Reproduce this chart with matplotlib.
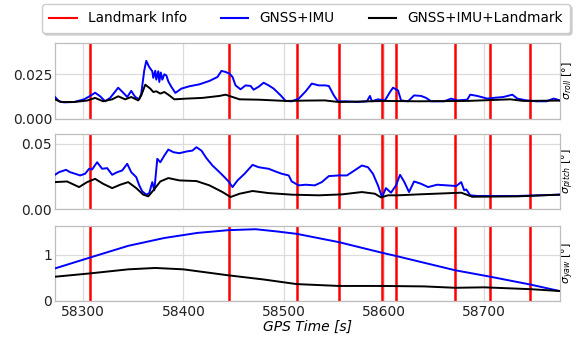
import matplotlib
matplotlib.use("Agg")
import matplotlib.pyplot as plt
from matplotlib.lines import Line2D

# ---------------- data ----------------
landmark_times = [58306.6, 58445, 58513, 58555, 58598, 58612, 58671, 58706, 58746]

roll_imu_t = [58272, 58276, 58281, 58291, 58301, 58307, 58312, 58317, 58322, 58327, 58335, 58340,
              58344, 58348, 58352, 58356, 58358, 58361, 58363, 58366, 58369, 58370, 58372, 58373,
              58375, 58376, 58377.5, 58379, 58381, 58383, 58385, 58388, 58392, 58398, 58406, 58416,
              58426, 58434, 58438, 58442, 58446, 58449, 58452, 58457, 58462, 58467, 58470, 58475,
              58480, 58485, 58490, 58497, 58502, 58508, 58515, 58522, 58528, 58535, 58541, 58545,
              58550, 58554, 58561, 58574, 58583, 58586, 58588, 58594, 58601, 58606, 58609, 58614,
              58617, 58624, 58630, 58637, 58642, 58647, 58660, 58667, 58673, 58683, 58686, 58693,
              58703, 58709, 58719, 58728, 58733, 58742, 58752, 58762, 58769, 58772, 58775]
roll_imu = [0.0123, 0.0099, 0.0093, 0.0095, 0.0110, 0.0129, 0.0147, 0.0127, 0.0099, 0.0118, 0.0175, 0.0147,
            0.0123, 0.0157, 0.0123, 0.0110, 0.0142, 0.0272, 0.0325, 0.0290, 0.0267, 0.0230, 0.0270, 0.0220,
            0.0267, 0.0207, 0.0260, 0.0220, 0.0250, 0.0244, 0.0210, 0.0180, 0.0146, 0.0170, 0.0183, 0.0194,
            0.0213, 0.0235, 0.0269, 0.0263, 0.0254, 0.0235, 0.0188, 0.0166, 0.0188, 0.0185, 0.0164, 0.0180,
            0.0203, 0.0188, 0.0170, 0.0132, 0.0101, 0.0099, 0.0114, 0.0155, 0.0198, 0.0188, 0.0188, 0.0185,
            0.0132, 0.0099, 0.0099, 0.0095, 0.0099, 0.0129, 0.0099, 0.0110, 0.0104, 0.0151, 0.0175, 0.0160,
            0.0104, 0.0099, 0.0132, 0.0129, 0.0118, 0.0099, 0.0099, 0.0114, 0.0104, 0.0108, 0.0136, 0.0129,
            0.0114, 0.0118, 0.0123, 0.0136, 0.0114, 0.0104, 0.0099, 0.0099, 0.0114, 0.0110, 0.0104]

roll_lm_t = [58272, 58278, 58291, 58304, 58312, 58320, 58329, 58335, 58342, 58348, 58355, 58358,
             58362, 58367, 58370, 58373, 58377, 58381, 58385, 58391, 58403, 58419, 58436, 58442,
             58449, 58456, 58475, 58502, 58522, 58541, 58555, 58601, 58634, 58683, 58726, 58739, 58775]
roll_lm = [0.0110, 0.0095, 0.0095, 0.0103, 0.0118, 0.0099, 0.0110, 0.0127, 0.0110, 0.0123, 0.0104, 0.0132,
           0.0192, 0.0170, 0.0151, 0.0155, 0.0142, 0.0151, 0.0136, 0.0110, 0.0114, 0.0118, 0.0129, 0.0136,
           0.0123, 0.0110, 0.0108, 0.0101, 0.0103, 0.0104, 0.0095, 0.0101, 0.0099, 0.0101, 0.0110, 0.0101, 0.0103]

pitch_imu_t = [58272, 58276, 58283, 58287, 58292, 58297, 58302, 58306, 58309, 58314, 58319, 58324,
               58329, 58334, 58339, 58344, 58348, 58353, 58356, 58359, 58363, 58366, 58369, 58371,
               58374, 58377, 58381, 58385, 58390, 58396, 58403, 58409, 58413, 58418, 58423, 58429,
               58436, 58441, 58445, 58449, 58454, 58461, 58469, 58475, 58485, 58492, 58498, 58505,
               58508, 58515, 58522, 58531, 58538, 58545, 58555, 58563, 58569, 58578, 58584, 58589,
               58594, 58598, 58602, 58607, 58612, 58616, 58620, 58625, 58630, 58637, 58644, 58653,
               58663, 58672, 58677, 58680, 58682, 58686, 58693, 58733, 58775]
pitch_imu = [0.0264, 0.0284, 0.0302, 0.0284, 0.0272, 0.0259, 0.0272, 0.0310, 0.0305, 0.0360, 0.0310, 0.0315,
             0.0264, 0.0284, 0.0297, 0.0348, 0.0284, 0.0246, 0.0183, 0.0137, 0.0112, 0.0124, 0.0208, 0.0145,
             0.0386, 0.0360, 0.0411, 0.0457, 0.0437, 0.0429, 0.0442, 0.0449, 0.0475, 0.0449, 0.0391, 0.0335,
             0.0284, 0.0246, 0.0213, 0.0170, 0.0221, 0.0272, 0.0340, 0.0322, 0.0310, 0.0289, 0.0272, 0.0259,
             0.0213, 0.0183, 0.0188, 0.0183, 0.0208, 0.0254, 0.0259, 0.0259, 0.0289, 0.0335, 0.0322, 0.0272,
             0.0183, 0.0094, 0.0162, 0.0127, 0.0183, 0.0264, 0.0213, 0.0132, 0.0213, 0.0195, 0.0170, 0.0188,
             0.0183, 0.0178, 0.0208, 0.0145, 0.0152, 0.0107, 0.0102, 0.0102, 0.0112]

pitch_lm_t = [58272, 58284, 58296, 58304, 58312, 58320, 58329, 58337, 58345, 58353, 58360, 58365,
              58370, 58377, 58385, 58396, 58413, 58426, 58439, 58447, 58456, 58469, 58485, 58508,
              58535, 58558, 58578, 58591, 58597, 58604, 58614, 58634, 58667, 58677, 58688, 58733, 58775]
pitch_lm = [0.0208, 0.0213, 0.0170, 0.0208, 0.0233, 0.0195, 0.0162, 0.0188, 0.0208, 0.0162, 0.0112, 0.0099,
            0.0145, 0.0213, 0.0239, 0.0221, 0.0216, 0.0183, 0.0132, 0.0094, 0.0119, 0.0140, 0.0124, 0.0112,
            0.0107, 0.0114, 0.0132, 0.0119, 0.0091, 0.0107, 0.0107, 0.0114, 0.0124, 0.0127, 0.0096, 0.0099, 0.0112]

yaw_imu_t = [58272, 58306, 58345, 58381, 58414, 58445, 58472, 58494, 58513, 58555, 58598, 58612,
             58671, 58706, 58746, 58775]
yaw_imu = [0.70, 0.93, 1.19, 1.36, 1.47, 1.53, 1.55, 1.50, 1.45, 1.27, 1.04, 0.97, 0.66, 0.52, 0.35, 0.21]

yaw_lm_t = [58272, 58306, 58345, 58372, 58400, 58445, 58480, 58513, 58555, 58598, 58640, 58671,
            58700, 58746, 58775]
yaw_lm = [0.52, 0.59, 0.68, 0.71, 0.68, 0.55, 0.46, 0.36, 0.32, 0.32, 0.31, 0.28, 0.29, 0.25, 0.21]

xticks = [58300, 58400, 58500, 58600, 58700]
panel_ylims = [(0, 0.0425), (0, 0.0576), (0, 1.62)]
panel_yticks = [[0.0, 0.025], [0.0, 0.05], [0, 1]]
panel_yticklabels = [["0.000", "0.025"], ["0.00", "0.05"], ["0", "1"]]
panel_ylabels = [r"$\sigma_{roll}$ [°]", r"$\sigma_{pitch}$ [°]", r"$\sigma_{yaw}$ [°]"]
legend_labels = ["Landmark Info", "GNSS+IMU", "GNSS+IMU+Landmark"]

# ---------------- figure ----------------
W, H = 576, 340
fig = plt.figure(figsize=(W / 100, H / 100), dpi=100)

def frac(l, t, r, b):
    return [l / W, 1 - b / H, (r - l) / W, (b - t) / H]

RIGHT = 560
rects = [frac(55, 43, RIGHT, 119), frac(55, 134, RIGHT, 209.3), frac(55, 226, RIGHT, 300.7)]
series = [(roll_imu_t, roll_imu, roll_lm_t, roll_lm),
          (pitch_imu_t, pitch_imu, pitch_lm_t, pitch_lm),
          (yaw_imu_t, yaw_imu, yaw_lm_t, yaw_lm)]

axes = []
for i, rect in enumerate(rects):
    ax = fig.add_axes(rect)
    axes.append(ax)
    ax.set_axisbelow(True)
    ax.grid(True, color="#dcdcdc", lw=0.9)
    for s in ax.spines.values():
        s.set_color("#bdbdbd")
        s.set_linewidth(0.9)
    ti, vi, tl, vl = series[i]
    for lt in landmark_times:
        ax.axvline(lt, color="#ff0000", lw=1.8, zorder=2)
    ax.plot(ti, vi, color="#0000ff", lw=1.4, zorder=3)
    ax.plot(tl, vl, color="#000000", lw=1.4, zorder=4)
    ax.set_xlim(58272, 58775.5)
    ax.set_ylim(*panel_ylims[i])
    ax.set_yticks(panel_yticks[i])
    ax.set_yticklabels(panel_yticklabels[i], fontsize=10)
    ax.set_xticks(xticks)
    if i < 2:
        ax.set_xticklabels([])
    else:
        ax.set_xticklabels([str(x) for x in xticks], fontsize=10)
        ax.set_xlabel("GPS Time [s]", fontsize=10, fontstyle="italic", labelpad=1)
    ax.tick_params(axis="both", length=0, pad=3, colors="#222222")
    ax.tick_params(axis="y", pad=2)
    ax.yaxis.set_label_position("right")
    ax.set_ylabel(panel_ylabels[i], fontsize=8, labelpad=0)

handles = [Line2D([], [], color="#ff0000", lw=1.5),
           Line2D([], [], color="#0000ff", lw=1.5),
           Line2D([], [], color="#000000", lw=1.5)]
leg = fig.legend(handles, legend_labels, ncol=3, mode="expand", loc="upper left",
                 bbox_to_anchor=(42 / W, 1 - 4 / H, 528 / W, 0), bbox_transform=fig.transFigure,
                 borderaxespad=0, fontsize=9.8, frameon=True, fancybox=True, framealpha=1,
                 edgecolor="#cccccc", borderpad=0.55, handlelength=2.0,
                 shadow={"color": "#bbbbbb", "ox": 1.5, "oy": -1.5, "alpha": 0.6})

fig.savefig("out.png", dpi=100)
